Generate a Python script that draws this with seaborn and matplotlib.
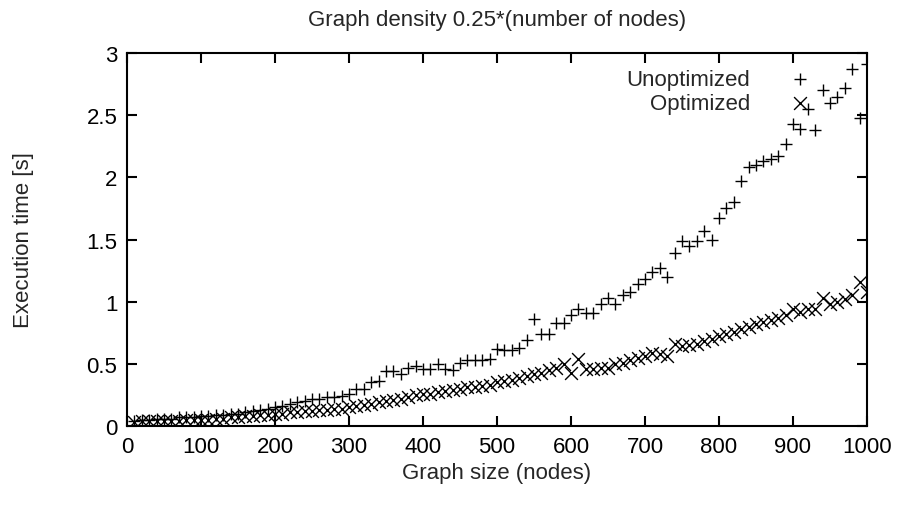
import numpy as np
import pandas as pd
import matplotlib
matplotlib.use("Agg")
from matplotlib import pyplot as plt
from matplotlib.ticker import FormatStrFormatter
import seaborn as sns

# graph sizes (nodes)
sizes = list(range(10, 1001, 10))

unoptimized = [
    0.04, 0.05, 0.05, 0.06, 0.06, 0.06, 0.07, 0.07, 0.07, 0.08,
    0.08, 0.09, 0.09, 0.10, 0.10, 0.11, 0.12, 0.13, 0.14, 0.15,
    0.16, 0.18, 0.19, 0.20, 0.22, 0.22, 0.23, 0.23, 0.24, 0.26,
    0.30, 0.30, 0.35, 0.36, 0.44, 0.44, 0.42, 0.47, 0.48, 0.46,
    0.46, 0.50, 0.46, 0.45, 0.51, 0.53, 0.53, 0.53, 0.54, 0.62,
    0.61, 0.61, 0.63, 0.69, 0.86, 0.74, 0.74, 0.83, 0.83, 0.89,
    0.94, 0.91, 0.91, 0.98, 1.03, 0.98, 1.05, 1.08, 1.14, 1.18,
    1.24, 1.27, 1.20, 1.39, 1.49, 1.45, 1.49, 1.57, 1.50, 1.67,
    1.75, 1.80, 1.97, 2.08, 2.10, 2.13, 2.15, 2.17, 2.27, 2.43,
    2.39, 2.55, 2.38, 2.70, 2.60, 2.65, 2.72, 2.87, 2.48, 2.91,
]

optimized = [
    0.03, 0.04, 0.04, 0.04, 0.04, 0.04, 0.04, 0.05, 0.05, 0.05,
    0.05, 0.06, 0.06, 0.07, 0.07, 0.08, 0.08, 0.09, 0.09, 0.10,
    0.10, 0.11, 0.11, 0.12, 0.12, 0.13, 0.13, 0.14, 0.14, 0.15,
    0.16, 0.17, 0.18, 0.19, 0.20, 0.21, 0.22, 0.23, 0.25, 0.26,
    0.26, 0.27, 0.28, 0.29, 0.30, 0.31, 0.31, 0.32, 0.33, 0.35,
    0.36, 0.37, 0.39, 0.40, 0.42, 0.43, 0.45, 0.47, 0.50, 0.43,
    0.54, 0.46, 0.46, 0.47, 0.47, 0.50, 0.51, 0.53, 0.55, 0.56,
    0.59, 0.58, 0.56, 0.66, 0.64, 0.65, 0.66, 0.68, 0.70, 0.72,
    0.74, 0.76, 0.78, 0.80, 0.82, 0.84, 0.85, 0.87, 0.89, 0.94,
    0.92, 0.94, 0.94, 1.03, 0.98, 1.00, 1.02, 1.05, 1.16, 1.08,
]

df = pd.DataFrame({
    "size": sizes * 2,
    "time": unoptimized + optimized,
    "series": ["Unoptimized"] * len(sizes) + ["Optimized"] * len(sizes),
})

sns.set_style("ticks")
plt.rcParams["font.family"] = ["Liberation Sans", "DejaVu Sans"]

FS = 16

fig = plt.figure(figsize=(8.99, 5.06), dpi=100)
ax = fig.add_axes([0.1413, 0.1561, 0.8231, 0.7372])

# thin gnuplot-like glyphs, one call per series
for name, mk in [("Unoptimized", "+"), ("Optimized", "x")]:
    d = df[df["series"] == name]
    sns.scatterplot(x=d["size"], y=d["time"], marker=mk, color="black",
                    s=85, linewidth=1.0, ax=ax, label=name)

ax.set_xlim(0, 1000)
ax.set_ylim(0, 3)
ax.set_xticks(range(0, 1001, 100))
ax.set_yticks(np.arange(0, 3.01, 0.5))
ax.yaxis.set_major_formatter(FormatStrFormatter("%g"))
ax.tick_params(direction="in", top=True, right=True, length=7, width=1.5,
               labelsize=FS, colors="black", pad=7)
for sp in ax.spines.values():
    sp.set_visible(True)
    sp.set_linewidth(1.5)
    sp.set_color("black")

ax.set_xlabel("Graph size (nodes)", fontsize=FS, labelpad=4)
ax.set_ylabel("Execution time [s]", fontsize=FS, labelpad=38)
ax.set_title("Graph density 0.25*(number of nodes)", fontsize=FS, pad=20)

ax.legend(loc="upper right", bbox_to_anchor=(0.95, 1.0), frameon=False,
          markerfirst=False, fontsize=FS, handlelength=1.3,
          handletextpad=1.6, labelspacing=0.15, borderaxespad=0.3)

fig.savefig("out.png", dpi=100)
